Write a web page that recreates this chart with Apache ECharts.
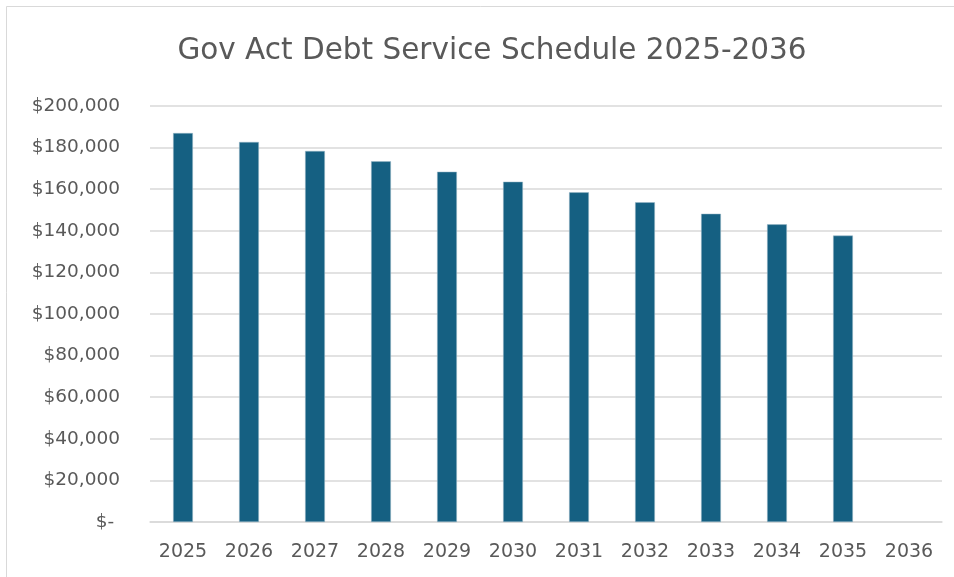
<!DOCTYPE html>
<html>
<head>
<meta charset="utf-8">
<script src="https://cdn.jsdelivr.net/npm/echarts@6/dist/echarts.min.js"></script>
<style>html,body{margin:0;padding:0;background:#fff;}#c{width:954px;height:577px;}</style>
</head>
<body>
<div id="c"></div>
<script>
const categories = ['2025','2026','2027','2028','2029','2030','2031','2032','2033','2034','2035','2036'];
const debtService = [187000,182700,178400,173400,168400,163600,158500,153700,148200,143100,137700,null];
const titleText = 'Gov Act Debt Service Schedule 2025-2036';

const chart = echarts.init(document.getElementById('c'));
chart.setOption({
  animation: false,
  backgroundColor: '#fff',
  graphic: [{type:'rect', shape:{x:6.5,y:6.5,width:1000,height:1000}, style:{fill:'none', stroke:'#d9d9d9', lineWidth:1}}],
  title: {text: titleText, left: 487, textAlign: 'center', top: 31,
    textStyle:{fontFamily:'DejaVu Sans', fontWeight:'normal', fontSize:29.5, color:'#595959'}},
  grid: {left:150, right:12, top:106, bottom:55},
  xAxis: {type:'category', data: categories,
    axisLine:{lineStyle:{color:'#d9d9d9', width:1.5}}, axisTick:{show:false},
    axisLabel:{fontFamily:'DejaVu Sans', fontSize:19, color:'#595959', margin:21}},
  yAxis: {type:'value', min:0, max:200000, interval:20000,
    axisLine:{show:false}, axisTick:{show:false},
    splitLine:{lineStyle:{color:'#d9d9d9', width:1.5}},
    axisLabel:{fontFamily:'DejaVu Sans', fontSize:18.5, color:'#595959', margin:30,
      formatter: v => v === 0 ? '$- ' : '$' + v.toLocaleString('en-US')}},
  series: [{type:'bar', data: debtService, barWidth:'30%',
    itemStyle:{color:'#156082', borderColor:'#9ab8c8', borderWidth:0.5}}]
});
</script>
</body>
</html>
